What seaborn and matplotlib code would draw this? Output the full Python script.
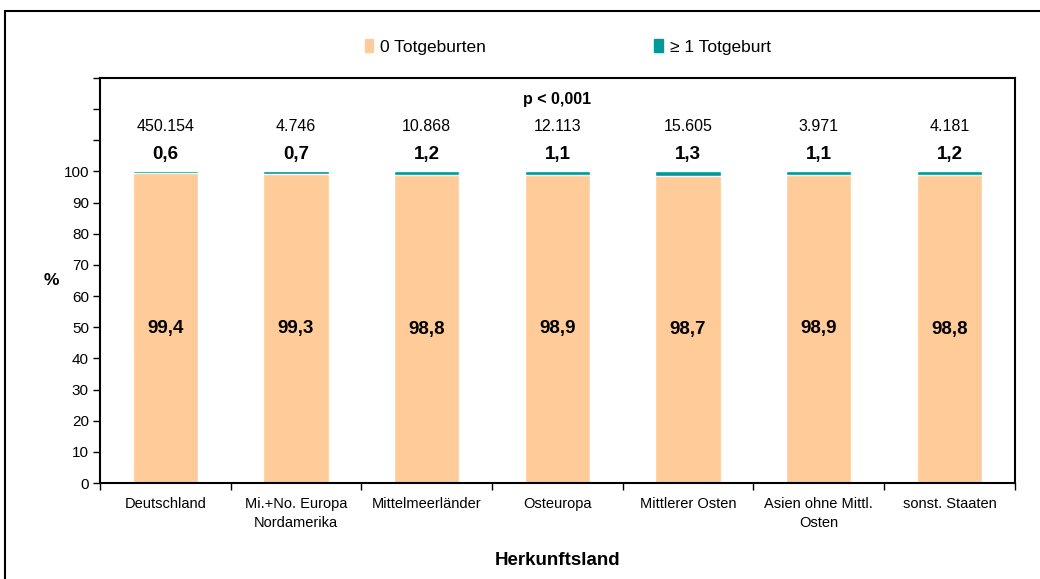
import numpy as np
import pandas as pd
import seaborn as sns
import matplotlib.pyplot as plt
from matplotlib.patches import Rectangle, Patch

# Data
countries = ['Deutschland', 'Mi.+No. Europa\nNordamerika', 'Mittelmeerländer', 'Osteuropa',
             'Mittlerer Osten', 'Asien ohne Mittl.\nOsten', 'sonst. Staaten']
pct_zero = [99.4, 99.3, 98.8, 98.9, 98.7, 98.9, 98.8]
pct_one = [0.6, 0.7, 1.2, 1.1, 1.3, 1.1, 1.2]
n_cases = ['450.154', '4.746', '10.868', '12.113', '15.605', '3.971', '4.181']

df = pd.DataFrame({'land': countries, 'zero': pct_zero, 'one': pct_one})
df['total'] = df['zero'] + df['one']

sns.set_style('white')
plt.rcParams['font.family'] = ['Liberation Sans', 'DejaVu Sans']
for k in ['text.color', 'axes.labelcolor', 'xtick.color', 'ytick.color']:
    plt.rcParams[k] = 'black'

peach = '#FFCC99'
teal = '#009999'

fig = plt.figure(figsize=(10.4, 5.79), dpi=100)
ax = fig.add_axes([0.0962, 0.1658, 0.8795, 0.6995])

sns.barplot(data=df, x='land', y='total', color=teal, width=0.5, saturation=1, ax=ax)
sns.barplot(data=df, x='land', y='zero', color=peach, width=0.5, saturation=1, ax=ax)

def de(v):
    return f'{v:.1f}'.replace('.', ',')

for i, row in df.iterrows():
    ax.text(i, row['zero'] / 2, de(row['zero']), ha='center', va='center',
            fontsize=13.5, fontweight='bold')
    ax.text(i, 105.5, de(row['one']), ha='center', va='center',
            fontsize=13.5, fontweight='bold')
    ax.text(i, 114.5, n_cases[i], ha='center', va='center', fontsize=11.5)

ax.text(3, 123, 'p < 0,001', ha='center', va='center', fontsize=11.5, fontweight='bold')

ax.set_ylim(0, 130)
ax.set_xlim(-0.5, 6.5)
ax.set_yticks(np.arange(0, 131, 10))
ax.set_yticklabels([str(v) if v <= 100 else '' for v in range(0, 131, 10)], fontsize=11)
ax.set_xticks(range(len(countries)))
ax.set_xticklabels(countries, fontsize=10.5, linespacing=1.45)
ax.set_xticks(np.arange(-0.5, 7, 1), minor=True)
ax.tick_params(axis='x', which='major', length=0, pad=10)
ax.tick_params(axis='x', which='minor', length=5, width=1, direction='out', bottom=True)
ax.tick_params(axis='y', length=5, width=1, direction='out', left=True, pad=3)

ax.set_xlabel('Herkunftsland', fontsize=13.5, fontweight='bold', labelpad=16)
ax.set_ylabel('%', fontsize=12.5, fontweight='bold', rotation=0, labelpad=9, va='center')

for s in ax.spines.values():
    s.set_color('black')
    s.set_linewidth(1.5)

# legend
handles = [Patch(color=peach, label='0 Totgeburten'), Patch(color=teal, label='≥ 1 Totgeburt')]
fig.legend(handles=handles, loc='center', bbox_to_anchor=(0.546, 0.919), ncol=2,
           frameon=False, fontsize=12.5, handlelength=0.5, handleheight=0.75,
           columnspacing=9.7, handletextpad=0.4)

# outer frame
fig.patches.append(Rectangle((0.005, -0.05), 1.2, 1.031, transform=fig.transFigure,
                             fill=False, edgecolor='black', linewidth=1.5))

fig.savefig('out.png', dpi=100)
